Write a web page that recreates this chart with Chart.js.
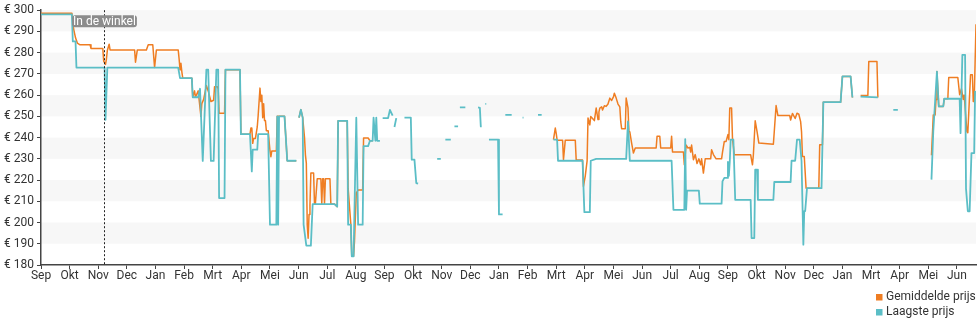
<!DOCTYPE html>
<html>
<head>
  <meta charset="utf-8">
  <title>Prijsverloop</title>
  <script src="https://cdn.jsdelivr.net/npm/chart.js@4/dist/chart.umd.min.js"></script>
  <style>
    html,
    body {
      margin: 0;
      padding: 0;
      background: #fff;
    }

    canvas {
      display: block;
    }
  </style>
</head>

<body>
  <canvas id="priceChart" width="980" height="325"></canvas>
  <script>
    // time axis: one labelled tick every tickStep units
    var tickStep = 31.5;
    var monthLabels = ['Sep', 'Okt', 'Nov', 'Dec', 'Jan', 'Feb', 'Mrt', 'Apr', 'Mei', 'Jun', 'Jul', 'Aug',
      'Sep', 'Okt', 'Nov', 'Dec', 'Jan', 'Feb', 'Mrt', 'Apr', 'Mei', 'Jun', 'Jul', 'Aug',
      'Sep', 'Okt', 'Nov', 'Dec', 'Jan', 'Mrt', 'Apr', 'Mei', 'Jun'];
    var axisEnd = 1029;

    // price axis
    var priceMin = 180;
    var priceMax = 300;
    var priceStep = 10;

    // Gemiddelde prijs (null = no data)
    var avgX = [0, 34, 36, 38, 40, 43, 54, 55, 68, 69, 71, 72, 73, 75, 76, 103, 104, 106, 116, 118, 123, 125, 127,
      151, 152, 153, 154, 155, 156, 166, 167, 169, 170, 173, 176, 177, 179, 182, 184, 187, 190, 191, 194, 195, 196,
      202, 203, 219, 220, 230, 231, 232, 233, 234, 236, 238, 239, 241, 242, 243, 244, 245, 246, 247, 248, 250, 252,
      253, 254, 259, 260, 268, 271, 281, 282, 284, 286, 288, 290, 291, 292, 293, 294, 295, 296, 297, 300, 301, 302,
      304, 308, 309, 310, 311, 312, 313, 318, 319, 323, 326, 327, 337, 338, 341, 342, 344, 345, 347, 349, 354, 355,
      360, 362, 365, 367,
      564, 566, 567, 568, 574, 575, 577, 588, 589, 596, 597, 599, 601, 602, 604, 605, 607, 609, 610, 611, 613, 614,
      615, 617, 618, 620, 622, 624, 626, 628, 630, 631, 633, 635, 637, 638, 639, 643, 644, 646, 647, 648, 650, 652,
      654, 677, 678, 681, 682, 693, 694, 695, 707, 708, 710, 712, 714, 715, 716, 718, 720, 722, 724, 726, 727, 729,
      731, 737, 738, 740, 743, 749, 750, 752, 754, 756, 757, 758, 760, 761, 763, 781, 783, 784, 786, 788, 790, 806,
      807, 809, 811, 824, 825, 827, 830, 832, 834, 836, 837, 838, 840, 842, 856, 857, 860, 861, 880, 882, 891, 893,
      896, 902, 910, 911, 920, 921, 925,
      980, 982, 984, 985, 986, 988, 993, 994, 998, 999, 1009, 1011, 1013, 1015, 1016, 1019, 1020, 1023, 1025, 1026,
      1027, 1029];
    var avgY = [298.6, 298.6, 291, 287, 284.5, 283.7, 283.7, 282, 282, 276, 274.5, 277, 281, 284, 281.3, 281.3, 275.5,
      281.3, 281.3, 283.7, 283.7, 273, 281.3,
      281.3, 277, 272, 275, 271, 268, 268, 259, 262, 259, 262, 250, 256, 258, 264.5, 262, 257, 257.6, 264, 264, 263,
      251.5, 251.5, 272, 272, 241.6, 241.6, 244.5, 244.5, 237.3, 239.6, 239.6, 245, 250.4, 263.3, 257, 260, 249.4,
      256, 248, 248, 243.2, 243.2, 233.7, 231, 233.7, 233.7, 250, 250, 229.1, 229.1, null, 249.4, 253.1, 249.4, 240,
      231.9, 228, 199, 192.6, 203.8, 208, 223.3, 223.3, 208.7, 209, 220.6, 220.6, 208.7, 220.6, 220.6, 208.7, 220.6,
      220.6, 208.7, 208.7, 207.5, 247.9, 247.9, 216.2, 199, 184.1, 184.1, 191.1, 214, 215.3, 215.3, 239.8, 239.8,
      238.5, 238.5, null,
      239, 244.5, 242, 238.8, 238.8, 229.6, 238.8, 238.8, 229.4, 229.4, 217, 222, 229, 249.2, 246, 249.9, 249, 248,
      251, 253.9, 248.5, 252, 253.9, 254.5, 253, 255, 254.7, 255.8, 258.6, 257.5, 259.2, 260.9, 258.6, 255.8, 254.5,
      247.6, 244.2, 244.2, 258.6, 254, 243, 242.7, 237.4, 232.7, 235.1, 235.1, 240.6, 240.6, 235.1, 235.1, 240.6,
      233.2, 233.2, 227.2, 236.5, 235.1, 235.4, 233.2, 236.5, 229.6, 232, 227.8, 230, 227.2, 230, 223.3, 230, 230,
      234.3, 232, 230, 230, 233, 238.2, 238.2, 241.4, 239, 253.9, 253.9, 239.6, 231.9, 231.9, 227.2, 231.9, 247.9,
      242.9, 237.4, 236.9, 242.9, 255.1, 250.4, 250.4, 248.3, 251.4, 249, 251.5, 251, 247.5, 242.7, 231.1, 231.1,
      216.2, 216.2, 236.6, 236.6, 256.7, 256.7, 268.8, 268.8, 258.9, null, 259.8, 259.8, 275.8, 275.8, 258.9, null,
      231.7, 250.7, 250.7, 258, 271.1, 254.7, 254.7, 258.3, 258.3, 268.3, 268.3, 260.2, 263, 258, 260, 242.9, 242.3,
      269.6, 269.6, 257, 257, 293.4];

    // Laagste prijs (null = no data)
    var lowX = [0, 34, 35, 38, 39, 70, 71, 73, 151, 153, 166, 167, 173, 175, 178, 182, 184, 187, 190, 193, 195, 196,
      202, 203, 219, 220, 230, 232, 233, 238, 239, 250, 252, 259, 260, 261, 262, 268, 271, 281, 282, 284, 286, 288,
      289, 292, 297, 299, 323, 326, 327, 337, 338, 341, 342, 344, 347, 349, 354, 355, 360, 362, 365, 366, 368, 369,
      370, 373, 375, 376, 382, 384, 387, 388, 389, 391, 393, 400, 407, 408, 411, 413, 415, 420, 436, 440, 442, 445,
      451, 452, 455, 459, 460, 461, 467, 470, 481, 483, 484, 485, 487, 489, 490, 491, 493, 503, 504, 508, 510, 511,
      518, 520, 530, 531, 535, 547, 551, 555, 564, 568, 569, 596, 598, 604, 605, 611, 644, 646, 648, 694, 696, 708,
      709, 710, 711, 724, 725, 749, 750, 752, 755, 756, 757, 758, 759, 762, 764, 781, 782, 785, 786, 788, 789, 806,
      807, 825, 826, 830, 832, 835, 837, 839, 840, 841, 843, 859, 861, 880, 882, 891, 893, 896, 902, 921, 925, 938,
      943, 950, 980, 982, 986, 988, 993, 994, 1011, 1012, 1014, 1017, 1018, 1020, 1022, 1024, 1027, 1028];
    var lowY = [298, 298, 285.3, 285.3, 273, 273, 248.4, 273, 273, 268, 268, 259, 259, 263, 229, 272, 272, 229, 229,
      272, 272, 211.5, 211.5, 272, 272, 241.6, 241.6, 224.1, 234.3, 234.3, 241.6, 241.6, 199, 199, 250, 199, 250, 250,
      229.1, 229.1, null, 249.4, 253.1, 249.4, 199, 189.1, 189.1, 208.7, 208.7, 207.5, 247.9, 247.9, 199, 199, 184.1,
      184.1, 249.4, 199, 199, 236, 236, 238.5, 238.5, 249.4, 238.5, 249.4, 238.5, 238.5, null, 249.2, 249.2, 253,
      250.3, null, 245, 249.2, null, 249.4, 249.4, 229.6, 229.6, 218.6, 218.3, null, 230, 230, null, 239, 239, null,
      245.3, 245.3, null, 254.2, 254.2, null, 254.2, 254, 245.3, 245.3, null, 255.9, 255.9, null, 239, 239, 203.8,
      203.8, null, 250.7, 250.7, null, 249.4, 249.4, null, 250.7, 250.7, null, 239, 239, 229.1, 229.1, 204.9, 204.9,
      229.1, 230, 230, 247.6, 229.1, 229.1, 206, 206, 239.3, 206, 215, 215, 208.9, 208.9, 219.4, 221, 221, 228.6,
      222, 228.6, 239, 239, 210.7, 210.7, 192.7, 192.7, 224.9, 224.9, 210.7, 210.7, 219.1, 219.1, 229.1, 229.1, 239,
      239, 229, 189.6, 205.4, 205.4, 216.2, 216.2, 256.7, 256.7, 268.8, 268.8, 258.9, null, 259.3, 258.9, null, 253.1,
      253.1, null, 220.2, 243, 271.1, 254.7, 254.7, 258.3, 258.3, 242.1, 279, 279, 216, 205.3, 205.3, 232.7, 232.7,
      262];

    // "In de winkel" marker
    var storeDay = 69.5;
    var storeLabel = 'In de winkel';

    var avgColor = '#ef7d22';
    var lowColor = '#5bbec6';
    var textColor = '#333';
    var font = 'Roboto';

    function points(xs, ys) {
      return xs.map(function(x, i) {
        return { x: x, y: ys[i] };
      });
    }

    // light stripes behind every other 10 euro interval
    var stripes = {
      id: 'stripes',
      beforeDraw: function(chart) {
        var ctx = chart.ctx, area = chart.chartArea, y = chart.scales.y;
        ctx.save();
        ctx.fillStyle = '#f7f7f7';
        for (var v = priceMin + priceStep; v < priceMax; v += 2 * priceStep) {
          var top = y.getPixelForValue(v + priceStep);
          var bottom = y.getPixelForValue(v);
          ctx.fillRect(area.left, top, area.right - area.left, bottom - top);
        }
        ctx.restore();
      }
    };

    // dotted vertical line with a small grey label
    var storeMarker = {
      id: 'storeMarker',
      afterDatasetsDraw: function(chart) {
        var ctx = chart.ctx, area = chart.chartArea;
        var x = Math.round(chart.scales.x.getPixelForValue(storeDay)) + 0.5;
        ctx.save();
        ctx.strokeStyle = '#222';
        ctx.lineWidth = 1;
        ctx.setLineDash([2, 2]);
        ctx.beginPath();
        ctx.moveTo(x, area.top);
        ctx.lineTo(x, area.bottom);
        ctx.stroke();
        ctx.setLineDash([]);
        ctx.font = '12px ' + font;
        var w = ctx.measureText(storeLabel).width + 2;
        var h = 12;
        var top = area.top + 5;
        ctx.fillStyle = '#8c8c8c';
        ctx.beginPath();
        ctx.roundRect(x - w / 2, top, w, h, 3);
        ctx.fill();
        ctx.fillStyle = '#fff';
        ctx.textAlign = 'center';
        ctx.textBaseline = 'middle';
        ctx.fillText(storeLabel, x, top + h / 2 + 0.5);
        ctx.restore();
      }
    };

    // two-row legend in the bottom right corner
    var cornerLegend = {
      id: 'cornerLegend',
      afterDraw: function(chart) {
        var ctx = chart.ctx;
        var left = chart.width - 104;
        ctx.save();
        ctx.font = '12px ' + font;
        ctx.textBaseline = 'middle';
        ctx.textAlign = 'left';
        chart.data.datasets.forEach(function(ds, i) {
          var cy = chart.height - 28 + i * 15;
          ctx.fillStyle = ds.borderColor;
          ctx.fillRect(left, cy - 3, 6.5, 6.5);
          ctx.fillStyle = textColor;
          ctx.fillText(ds.label, left + 10, cy);
        });
        ctx.restore();
      }
    };

    var ctx = document.getElementById('priceChart').getContext('2d');
    window.priceChart = new Chart(ctx, {
      type: 'line',
      data: {
        datasets: [{
          label: 'Gemiddelde prijs',
          data: points(avgX, avgY),
          borderColor: avgColor,
          backgroundColor: avgColor,
          borderWidth: 1.5,
          order: 1
        }, {
          label: 'Laagste prijs',
          data: points(lowX, lowY),
          borderColor: lowColor,
          backgroundColor: lowColor,
          borderWidth: 1.8,
          order: 0
        }]
      },
      options: {
        responsive: false,
        animation: false,
        layout: {
          padding: { top: 10, right: 4, bottom: 0, left: 0 }
        },
        elements: {
          point: { radius: 0, hoverRadius: 0 },
          line: { tension: 0, borderJoinStyle: 'round' }
        },
        scales: {
          x: {
            type: 'linear',
            min: 0,
            max: axisEnd,
            afterBuildTicks: function(scale) {
              scale.ticks = monthLabels.map(function(m, i) {
                return { value: i * tickStep };
              });
            },
            afterFit: function(scale) {
              scale.height = 60;
            },
            ticks: {
              autoSkip: false,
              maxRotation: 0,
              padding: 0,
              color: textColor,
              font: { family: font, size: 12 },
              callback: function(value, index) {
                return monthLabels[index];
              }
            },
            grid: {
              drawOnChartArea: false,
              tickLength: 4,
              color: '#444'
            },
            border: { color: '#444', width: 1.5 }
          },
          y: {
            min: priceMin,
            max: priceMax,
            afterFit: function(scale) {
              scale.width = 41;
            },
            ticks: {
              stepSize: priceStep,
              padding: 3,
              color: textColor,
              font: { family: font, size: 12 },
              callback: function(value) {
                return '€ ' + value;
              }
            },
            grid: {
              drawOnChartArea: false,
              tickLength: 4,
              color: '#444'
            },
            border: { color: '#444', width: 1.5 }
          }
        },
        plugins: {
          legend: { display: false },
          tooltip: { enabled: false }
        }
      },
      plugins: [stripes, storeMarker, cornerLegend]
    });
  </script>
</body>

</html>
